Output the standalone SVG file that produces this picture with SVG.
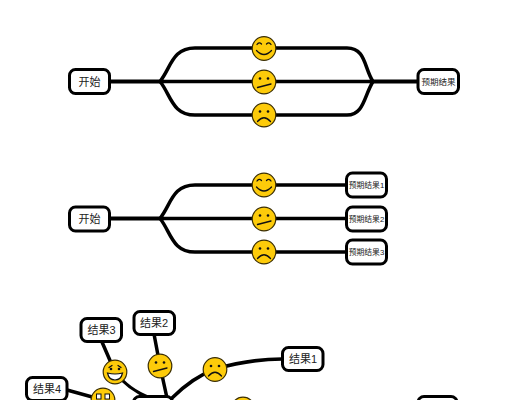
<svg xmlns="http://www.w3.org/2000/svg" width="527" height="400" viewBox="0 0 527 400">
<style>
.c{fill:none;stroke:#000;stroke-width:4;stroke-linecap:round;stroke-linejoin:round}
.t{stroke-width:3.5}
.n{fill:#fff;stroke:#000;stroke-width:3}
.l{font-family:"Liberation Sans","Noto Sans CJK SC",sans-serif;font-size:11px;fill:#222;text-anchor:middle}
.s{font-size:8.500px}
.x{font-size:7.800px}
.f{fill:#fdcb0a;stroke:#3a2d00;stroke-width:1.200}
.m{fill:none;stroke:#111;stroke-width:1.300;stroke-linecap:round}
.d{fill:#111}
</style>
<defs>
<g id="base"><circle class="f" r="11.800"/></g>
<g id="happy"><use href="#base"/><path class="m" d="M-7-4Q-5-7-2.500-4.500M2.500-4.500Q5-7 7-4M-7.500 2Q0 10 7.500 2"/></g>
<g id="neutral"><use href="#base"/><circle class="d" cx="-4" cy="-3.500" r="1.300"/><circle class="d" cx="4" cy="-3.500" r="1.300"/><path class="m" d="M-6.500 5.500L7 2"/></g>
<g id="sad"><use href="#base"/><circle class="d" cx="-4" cy="-3.500" r="1.300"/><circle class="d" cx="4" cy="-3.500" r="1.300"/><path class="m" d="M-6.500 6.500Q0-1 6.500 6.500"/></g>
<g id="grin"><use href="#base"/><path class="m" d="M-6-4.500L-3-6.500M6-4.500L3-6.500"/><circle class="d" cx="-4" cy="-3" r="1.300"/><circle class="d" cx="4" cy="-3" r="1.300"/><path d="M-7.500 1Q0 3 7.500 1Q6 8 0 8Q-6 8-7.500 1Z" fill="#fff" stroke="#111" stroke-width="1.200"/></g>
<g id="teeth"><use href="#base"/><rect x="-6.500" y="-6" width="4.500" height="5" fill="#fff" stroke="#111"/><rect x="2" y="-6" width="4.500" height="5" fill="#fff" stroke="#111"/></g>
</defs>
<g id="connectors">
<path class="c" d="M110 81.500H160"/>
<path class="c t" d="M160 81.500C171 68 172 48 195 48H347C366 48 364 68 373 81.500M160 81.500H373M160 81.500C171 95 172 115 195 115H347C364 115 364 96 373 81.500"/>
<path class="c" d="M373 81.500H418"/>
<path class="c" d="M110 218.500H160"/>
<path class="c t" d="M160 218.500C171 205 172 185 195 185H346M160 218.500H346M160 218.500C171 232 172 252 195 252H346"/>
<path class="c t" d="M102 342L115 372M115 372C125 385 135 392 150 398"/>
<path class="c t" d="M154 334L160 366L167 398"/>
<path class="c t" d="M67 390L103 400"/>
<path class="c t" d="M172 398C188 382 202 374 215 369C240 362 260 359 282 359"/>
</g>
<g id="start1"><rect class="n" x="69.500" y="69.500" width="40" height="24" rx="6"/><text class="l" x="89.500" y="85.500">开始</text></g>
<g id="end1"><rect class="n" x="418" y="69.500" width="40.500" height="24" rx="6"/><text class="l s" x="438.500" y="84.500">预期结果</text></g>
<g id="face1"><use href="#happy" x="264" y="48.500"/></g>
<g id="face2"><use href="#neutral" x="264" y="82"/></g>
<g id="face3"><use href="#sad" x="264" y="115"/></g>
<g id="start2"><rect class="n" x="69.500" y="207" width="40" height="24" rx="6"/><text class="l" x="89.500" y="222.500">开始</text></g>
<g id="face4"><use href="#happy" x="264" y="185"/></g>
<g id="face5"><use href="#neutral" x="264" y="219"/></g>
<g id="face6"><use href="#sad" x="264" y="252"/></g>
<g id="res1"><rect class="n" x="346.500" y="173" width="40" height="24" rx="6"/><text class="l x" x="366.500" y="188">预期结果1</text></g>
<g id="res2"><rect class="n" x="346.500" y="207" width="40" height="24" rx="6"/><text class="l x" x="366.500" y="221.500">预期结果2</text></g>
<g id="res3"><rect class="n" x="346.500" y="240" width="40" height="24" rx="6"/><text class="l x" x="366.500" y="255">预期结果3</text></g>
<g id="r3"><rect class="n" x="81" y="318.500" width="40.500" height="23" rx="6"/><text class="l" x="101.500" y="334">结果3</text></g>
<g id="r2"><rect class="n" x="134" y="311.500" width="40.500" height="23" rx="6"/><text class="l" x="154" y="327">结果2</text></g>
<g id="r4"><rect class="n" x="26.500" y="377.500" width="40.500" height="23" rx="6"/><text class="l" x="47" y="392.500">结果4</text></g>
<g id="r1"><rect class="n" x="282.500" y="347.500" width="40.500" height="23" rx="6"/><text class="l" x="303" y="363">结果1</text></g>
<g id="center3"><rect class="n" x="133.500" y="396.500" width="39" height="24" rx="6"/></g>
<g id="right3"><rect class="n" x="418" y="396.500" width="39" height="24" rx="6"/></g>
<g id="face7"><use href="#grin" x="115" y="372"/></g>
<g id="face8"><use href="#neutral" x="160" y="366"/></g>
<g id="face9"><use href="#sad" x="215" y="369.500"/></g>
<g id="face10"><use href="#teeth" x="103" y="400"/></g>
<g id="face11"><use href="#neutral" x="243" y="409"/></g>
</svg>
